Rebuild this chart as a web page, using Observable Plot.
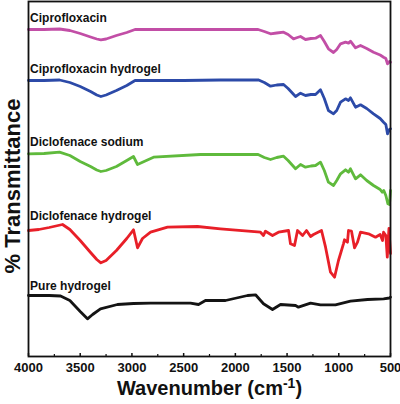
<!DOCTYPE html>
<html>
<head>
<meta charset="utf-8">
<script src="https://cdn.jsdelivr.net/npm/d3@7"></script>
<script src="https://cdn.jsdelivr.net/npm/@observablehq/plot@0.6"></script>
<style>
  html, body { margin: 0; padding: 0; background: #fff; }
  #chart { width: 400px; height: 404px; }
</style>
</head>
<body>
<div id="chart"></div>
<script>
// FTIR spectra, stacked with vertical offsets (arbitrary transmittance units)
const names = ["Ciprofloxacin", "Ciprofloxacin hydrogel", "Diclofenace sodium", "Diclofenace hydrogel", "Pure hydrogel"];
const colors = ["#c24ea6", "#2c4aa8", "#5fba3c", "#e81f28", "#141414"];

const ciproWn = [4000, 3850, 3700, 3600, 3500, 3400, 3340, 3300, 3250, 3150, 3050, 2970, 2500, 2144, 1780, 1720, 1660, 1600, 1534, 1490, 1438, 1400, 1370, 1322, 1270, 1225, 1177, 1140, 1100, 1051, 1020, 983, 935, 906, 887, 838, 790, 730, 664, 600, 567, 545, 529, 510, 500];
const ciproT = [327, 327, 327.5, 326, 323, 319.5, 317.5, 316.7, 317.5, 321, 324, 327, 327, 327, 327, 325, 322.7, 323.5, 324.3, 322, 317.7, 319, 320, 317, 318, 318.3, 321, 315, 307.7, 304, 307, 312.7, 314.3, 313.3, 315.3, 308.7, 311, 308, 304.3, 301.5, 299.3, 298, 292.7, 295, 294.3];

const ciproGelWn = [4000, 3850, 3700, 3600, 3500, 3400, 3340, 3300, 3250, 3150, 3050, 2970, 2500, 2144, 1780, 1720, 1660, 1600, 1534, 1490, 1418, 1370, 1322, 1270, 1225, 1177, 1140, 1100, 1051, 1020, 983, 935, 906, 887, 838, 790, 730, 664, 600, 567, 545, 529, 510, 500];
const ciproGelT = [276, 276, 276.5, 274, 270, 265, 261.5, 260, 261.5, 266, 271, 276, 276, 276.5, 276.7, 274, 270.3, 271.5, 272, 268, 260, 263.3, 261, 262, 262, 266.7, 258, 246, 242.7, 246, 254.3, 257.7, 256, 258.7, 249.3, 251.7, 248, 242.7, 238, 234.3, 232, 222.7, 227, 227.7];

const dicloWn = [4000, 3850, 3700, 3600, 3500, 3400, 3340, 3300, 3250, 3150, 3050, 2985, 2946, 2898, 2791, 2337, 2144, 1780, 1720, 1660, 1600, 1534, 1490, 1418, 1370, 1322, 1270, 1225, 1177, 1140, 1100, 1051, 1020, 983, 935, 906, 887, 838, 790, 730, 664, 600, 580, 565, 545, 525, 510, 500];
const dicloT = [202.7, 203, 204.3, 201, 195, 190, 186.5, 185, 186, 190, 196, 200, 192, 194.3, 199.3, 202, 202, 202, 199, 197, 199, 200.3, 196, 187.7, 192, 189.3, 190.5, 191, 194.3, 186, 174.3, 171, 176, 182.7, 186.7, 184.3, 187.7, 177.7, 181.7, 176, 171, 167, 164.3, 166, 161, 152.7, 152, 166];

const dicloGelWn = [4000, 3900, 3800, 3671, 3600, 3500, 3400, 3340, 3300, 3250, 3150, 3050, 2985, 2946, 2898, 2820, 2656, 2366, 2144, 1757, 1728, 1709, 1641, 1583, 1486, 1467, 1428, 1399, 1350, 1312, 1273, 1244, 1167, 1128, 1080, 1041, 1003, 955, 945, 916, 906, 877, 848, 819, 790, 713, 645, 600, 577, 567, 545, 531, 515, 500];
const dicloGelT = [126, 127, 129, 132, 127, 116, 104, 97, 93.7, 96, 106, 118, 126.7, 108.7, 118, 124.3, 129.3, 130, 127.7, 124.3, 121, 125.3, 121, 124.3, 126, 112.7, 111, 126, 121, 126, 120, 122, 126, 109.3, 84.3, 79.3, 96, 112.7, 116.7, 114.3, 126, 125.3, 108.7, 114.3, 124.3, 122.7, 119.3, 122, 116, 124.3, 121, 99.3, 128, 103];

const pureWn = [4000, 3800, 3690, 3600, 3500, 3430, 3380, 3304, 3140, 2985, 2820, 2434, 2356, 2289, 2095, 1882, 1805, 1728, 1641, 1563, 1418, 1390, 1273, 1177, 1032, 887, 722, 567, 510, 500];
const pureT = [61, 61, 60.5, 56, 45, 37.7, 42, 47.7, 52, 53, 53.3, 53.3, 52, 56, 56, 61, 61.7, 52.7, 47, 52, 51, 49.3, 53.3, 51.7, 51.7, 55.3, 57, 57.7, 58.5, 59.3];

// label placement (wavenumber where the label starts, offset height)
const labelWn = 3985;
const labelT = [338, 287, 214, 140, 70];

const xTicks = [4000, 3500, 3000, 2500, 2000, 1500, 1000, 500];
const xMinorTicks = [3750, 3250, 2750, 2250, 1750, 1250, 750];

const spectra = [
  [ciproWn, ciproT],
  [ciproGelWn, ciproGelT],
  [dicloWn, dicloT],
  [dicloGelWn, dicloGelT],
  [pureWn, pureT]
];
const rows = spectra.flatMap(([wn, t], i) => wn.map((w, j) => ({name: names[i], wn: w, t: t[j]})));
const labels = names.map((n, i) => ({name: n, wn: labelWn, t: labelT[i]}));

const font = "'Liberation Sans', Arial, Helvetica, sans-serif";

const chart = Plot.plot({
  width: 400,
  height: 404,
  marginLeft: 28,
  marginRight: 10,
  marginTop: 1,
  marginBottom: 48,
  style: {fontFamily: font, fontWeight: "bold", fontSize: "13px", color: "#111", background: "#fff"},
  x: {domain: [4000, 500], label: null},
  y: {domain: [0, 355], axis: null},
  color: {domain: names, range: colors},
  marks: [
    Plot.line(rows, {x: "wn", y: "t", z: "name", stroke: "name", strokeWidth: 2.8, strokeLinejoin: "round", strokeLinecap: "round"}),
    Plot.text(labels, {x: "wn", y: "t", text: "name", textAnchor: "start", fontSize: 12, fontWeight: "bold", fill: "#111"}),
    Plot.axisX({ticks: xTicks, tickSize: 0, tickPadding: 6, tickFormat: d => String(d), fontSize: 13, fontWeight: "bold"}),
    Plot.axisX({ticks: xTicks, tickSize: -3, text: null, strokeWidth: 1.5}),
    Plot.axisX({ticks: xMinorTicks, tickSize: -2, text: null, strokeWidth: 1.2}),
    Plot.frame({stroke: "#111", strokeWidth: 1.8}),
    Plot.text(["% Transmittance"], {frameAnchor: "left", textAnchor: "middle", rotate: -90, dx: -9, dy: 7, lineAnchor: "bottom", fontSize: 22, fontWeight: "bold", fill: "#111"}),
    Plot.text(["Wavenumber (cm-1)"], {frameAnchor: "bottom", textAnchor: "middle", dy: 32, lineAnchor: "middle", fontSize: 20, fontWeight: "bold", fill: "#111"})
  ]
});

// superscript for the unit in the x-axis title
d3.select(chart).selectAll("text")
  .filter(function () { return this.textContent === "Wavenumber (cm-1)"; })
  .each(function () {
    const t = d3.select(this);
    t.text("Wavenumber (cm");
    t.append("tspan").attr("dy", "-7").attr("font-size", "14").text("-1");
    t.append("tspan").attr("dy", "7").text(")");
  });

document.getElementById("chart").appendChild(chart);
</script>
</body>
</html>
